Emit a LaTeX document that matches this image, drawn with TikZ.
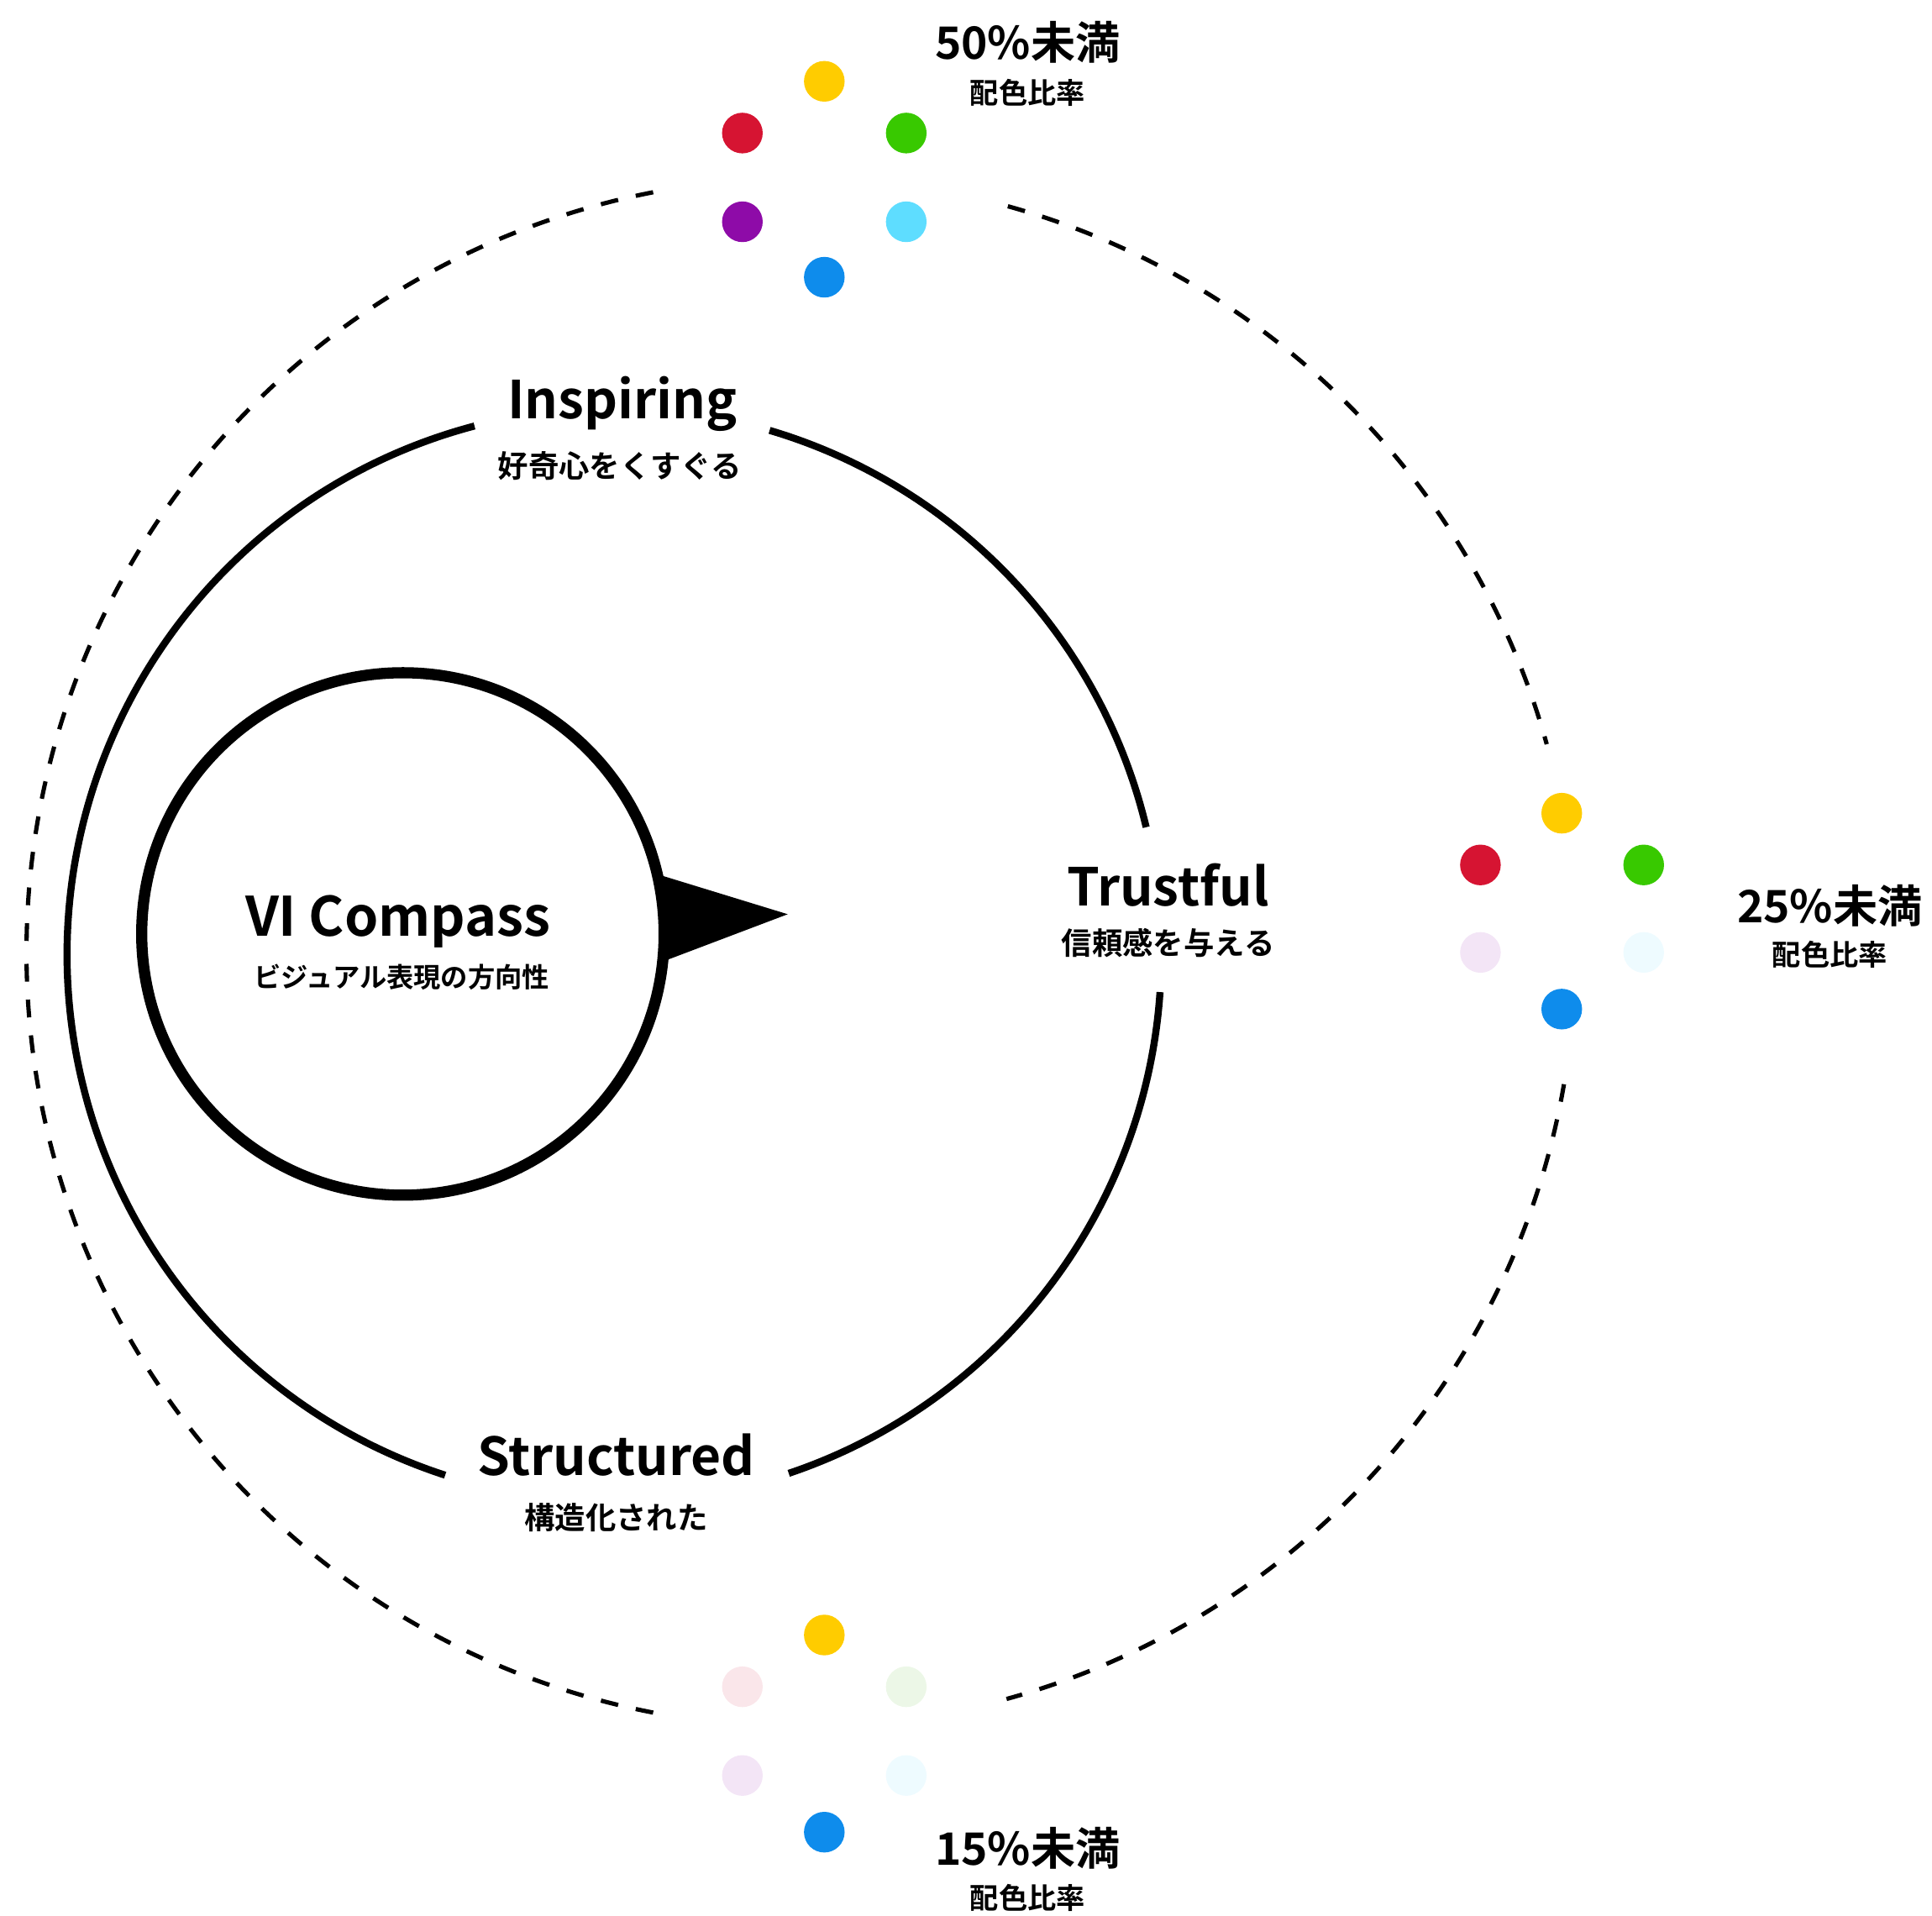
\documentclass[tikz,border=0pt]{standalone}
\usepackage{fontspec}
\setmainfont{Noto Sans CJK JP}[BoldFont={Noto Sans CJK JP Bold}]
\usetikzlibrary{calc}
\definecolor{cyellow}{HTML}{FFCC00}
\definecolor{cred}{HTML}{D61432}
\definecolor{cgreen}{HTML}{38C900}
\definecolor{cpurple}{HTML}{8E0BA8}
\definecolor{ccyan}{HTML}{5EDDFF}
\definecolor{cblue}{HTML}{0E8CEC}
\definecolor{lpink}{HTML}{FAE6EA}
\definecolor{lgreen}{HTML}{ECF7E7}
\definecolor{llav}{HTML}{F3E5F6}
\definecolor{lcyan}{HTML}{EEFBFF}
\begin{document}
\begin{tikzpicture}[x=0.75pt,y=0.75pt,
  every node/.style={inner sep=0pt},
  ttl/.style={font=\fontsize{31.8}{38}\selectfont\bfseries},
  bigttl/.style={font=\fontsize{33}{40}\selectfont\bfseries},
  sub/.style={font=\fontsize{18.6}{22}\selectfont\bfseries},
  smallsub/.style={font=\fontsize{16.5}{20}\selectfont\bfseries},
  pct/.style={font=\fontsize{27.2}{33}\selectfont\bfseries},
  pctsub/.style={font=\fontsize{17.5}{21}\selectfont\bfseries},
  dot/.style={circle, minimum size=24.75pt, inner sep=0pt},
  ring/.style={line width=4.3pt},
  thickring/.style={line width=6.8pt},
  dashring/.style={line width=2.6pt, dash pattern=on 10.8pt off 11pt},
]
\useasboundingbox (0,0) rectangle (1568,-1554.4);

% outer dashed circle
\coordinate (O) at (650,-773);
\draw[dashring] (O) ++(74.5:628.5) arc[start angle=74.5, end angle=15.6, radius=628.5];
\draw[dashring] (O) ++(-9.8:628.5) arc[start angle=-9.8, end angle=-74.6, radius=628.5];
\draw[dashring] (O) ++(101:628.5) arc[start angle=101, end angle=180, radius=628.5];
\draw[dashring] (O) ++(259:628.5) arc[start angle=259, end angle=180, radius=628.5];

% middle ring
\coordinate (M) at (498.5,-775);
\draw[ring] (M) ++(73.5:444) arc[start angle=73.5, end angle=13.5, radius=444];
\draw[ring] (M) ++(-3.9:444) arc[start angle=-3.9, end angle=-71.4, radius=444];
\draw[ring] (M) ++(104.8:444) arc[start angle=104.8, end angle=252, radius=444];

% inner circle and pointer
\coordinate (C) at (327,-758);
\draw[thickring] (C) circle[radius=212];
\coordinate (pa) at (535,-710);
\coordinate (pt) at (639.3,-742);
\coordinate (pb) at (539,-780);
\fill (pa) -- (pt) -- (pb) -- cycle;

% texts
\node[bigttl] (vi) at (323,-748) {VI Compass};
\node[smallsub] (visub) at (326,-793) {ビジュアル表現の方向性};
\node[ttl] (insp) at (505,-328) {Inspiring};
\node[sub] (inspsub) at (503,-378) {好奇心をくすぐる};
\node[ttl] (trust) at (948,-718) {Trustful};
\node[sub] (trustsub) at (948,-765) {信頼感を与える};
\node[ttl] (struct) at (500,-1181) {Structured};
\node[sub] (structsub) at (500,-1232) {構造化された};

\node[pct] (p50) at (834,-34) {50\%未満};
\node[pctsub] (p50s) at (834,-75) {配色比率};
\node[pct] (p25) at (1485,-735) {25\%未満};
\node[pctsub] (p25s) at (1485,-775) {配色比率};
\node[pct] (p15) at (834,-1500) {15\%未満};
\node[pctsub] (p15s) at (834,-1540) {配色比率};

% top cluster
\node[dot, fill=cyellow] (t1) at (669,-66) {};
\node[dot, fill=cred] (t2) at (602.5,-108) {};
\node[dot, fill=cgreen] (t3) at (735.5,-108) {};
\node[dot, fill=cpurple] (t4) at (602.5,-180) {};
\node[dot, fill=ccyan] (t5) at (735.5,-180) {};
\node[dot, fill=cblue] (t6) at (669,-225) {};
% right cluster
\node[dot, fill=cyellow] (r1) at (1267.5,-660) {};
\node[dot, fill=cred] (r2) at (1201.5,-702) {};
\node[dot, fill=cgreen] (r3) at (1334,-702) {};
\node[dot, fill=llav] (r4) at (1201.5,-773) {};
\node[dot, fill=lcyan] (r5) at (1334,-773) {};
\node[dot, fill=cblue] (r6) at (1267.5,-819) {};
% bottom cluster
\node[dot, fill=cyellow] (b1) at (669,-1327) {};
\node[dot, fill=lpink] (b2) at (602.5,-1369) {};
\node[dot, fill=lgreen] (b3) at (735.5,-1369) {};
\node[dot, fill=llav] (b4) at (602.5,-1441) {};
\node[dot, fill=lcyan] (b5) at (735.5,-1441) {};
\node[dot, fill=cblue] (b6) at (669,-1487) {};
\end{tikzpicture}
\end{document}
